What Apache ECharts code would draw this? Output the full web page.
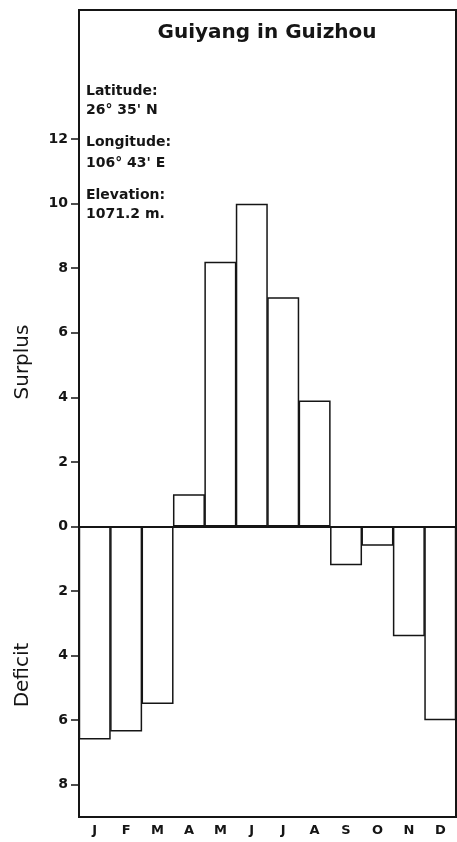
<!DOCTYPE html>
<html><head><meta charset="utf-8">
<script src="https://cdn.jsdelivr.net/npm/echarts@6/dist/echarts.min.js"></script>
<style>html,body{margin:0;padding:0;background:#fff}#c{width:457px;height:842px}</style>
</head><body><div id="c"></div>
<script>
var months = ['J','F','M','A','M','J','J','A','S','O','N','D'];
var balance = [-6.6, -6.35, -5.5, 1.0, 8.2, 10.0, 7.1, 3.9, -1.2, -0.6, -3.4, -6.0];
var tickValues = [-8, -6, -4, -2, 0, 2, 4, 6, 8, 10, 12];
var titleText = 'Guiyang in Guizhou';
var infoLines = [['Latitude:', "26\u00b0 35' N"], ['Longitude:', "106\u00b0 43' E"], ['Elevation:', '1071.2 m.']];

var chart = echarts.init(document.getElementById('c'));
var ink = '#151515';
var fontB = 'DejaVu Sans';
var graphics = [
  {type:'text', x:267, y:33, style:{text:titleText, font:'bold 20px "DejaVu Sans"', fill:ink, textAlign:'center', textVerticalAlign:'middle'}},
  {type:'text', x:23, y:362, rotation:Math.PI/2, style:{text:'Surplus', font:'20px "DejaVu Sans"', fill:ink, textAlign:'center', textVerticalAlign:'middle'}},
  {type:'text', x:23, y:675, rotation:Math.PI/2, style:{text:'Deficit', font:'20px "DejaVu Sans"', fill:ink, textAlign:'center', textVerticalAlign:'middle'}}
];
var infoY = [[91,110],[142,163],[195,214]];
infoLines.forEach(function(p,i){
  graphics.push({type:'text', x:86, y:infoY[i][0], style:{text:p[0], font:'bold 14px "DejaVu Sans"', fill:ink, textAlign:'left', textVerticalAlign:'middle'}});
  graphics.push({type:'text', x:86, y:infoY[i][1], style:{text:p[1], font:'bold 14px "DejaVu Sans"', fill:ink, textAlign:'left', textVerticalAlign:'middle'}});
});

chart.setOption({
  animation:false,
  backgroundColor:'#fff',
  grid:{left:79, right:1, top:10, bottom:25, show:true, borderColor:ink, borderWidth:2, backgroundColor:'transparent'},
  xAxis:{type:'category', data:months,
    axisLine:{onZero:false, show:false}, axisTick:{show:false},
    axisLabel:{color:ink, fontFamily:fontB, fontWeight:'bold', fontSize:13, margin:7}},
  yAxis:{type:'value', min:-9, max:16, interval:1,
    splitLine:{show:false},
    axisLine:{show:false},
    axisTick:{show:true, length:8, inside:false, customValues:tickValues, lineStyle:{color:ink, width:1.5}},
    axisLabel:{customValues:tickValues, color:ink, fontFamily:fontB, fontWeight:'bold', fontSize:14, margin:11,
      formatter:function(v){return String(Math.abs(v));}}},
  graphic:graphics,
  series:[{type:'bar', data:balance, barWidth:32, barCategoryGap:'0%',
    itemStyle:{color:'#fff', borderColor:ink, borderWidth:1.5},
    markLine:{silent:true, symbol:'none', label:{show:false}, lineStyle:{color:ink, width:2, type:'solid'}, data:[{yAxis:0}]}}]
});
</script></body></html>
